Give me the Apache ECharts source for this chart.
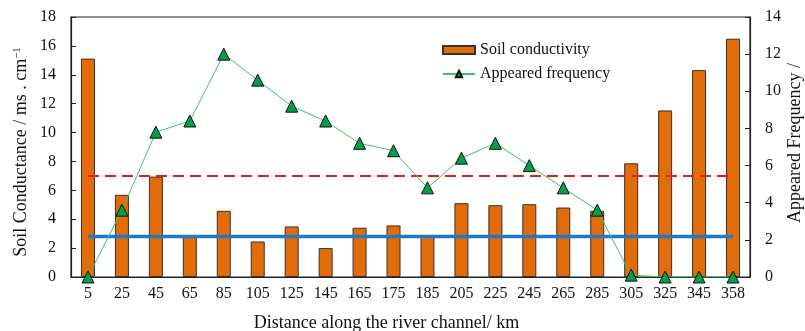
<!DOCTYPE html>
<html>
<head>
<meta charset="utf-8">
<script src="https://cdn.jsdelivr.net/npm/echarts@6/dist/echarts.min.js"></script>
<style>html,body{margin:0;padding:0;background:#fff}#c{width:805px;height:331px}</style>
</head>
<body>
<div id="c"></div>
<script>
var categories = ['5','25','45','65','85','105','125','145','165','175','185','205','225','245','265','285','305','325','345','358'];
var conductivity = [15.12,5.69,6.95,2.76,4.58,2.46,3.5,2.0,3.41,3.57,2.88,5.11,4.97,5.04,4.81,4.58,7.87,11.53,14.32,16.5];
var frequency = [0,3.6,7.8,8.4,12,10.6,9.2,8.4,7.2,6.8,4.8,6.4,7.2,6,4.8,3.6,0.1,0,0,0];
var redLevel = 7.0;
var blueLevel = 2.8;
var leftTicks = {min:0, max:18, interval:2};
var rightTicks = {min:0, max:14, interval:2};

var FONT = '"Liberation Serif","Times New Roman",serif';
var AX = '#222';
var chart = echarts.init(document.getElementById('c'));
chart.setOption({
  animation: false,
  grid: {left:71, right:55, top:17, bottom:54, containLabel:false, outerBoundsMode:'none',
    show:true, borderColor:AX, borderWidth:1.2, backgroundColor:'transparent'},
  legend: {
    data: [{name:'Soil conductivity', icon:'rect'}, {name:'Appeared frequency'}],
    orient: 'vertical', left: 442, top: 42, padding: 0, itemWidth: 32, itemHeight: 8, itemGap: 8,
    textStyle: {fontFamily: FONT, fontSize: 16, color: '#111'}
  },
  xAxis: {
    type: 'category', data: categories,
    axisLine: {lineStyle:{color:AX, width:1.2}},
    axisTick: {inside:true, length:5, lineStyle:{color:AX}},
    axisLabel: {interval:0, margin:9, fontFamily:FONT, fontSize:16, color:'#111'},
    name: 'Distance along the river channel/ km', nameLocation:'middle', nameGap:37,
    nameTextStyle: {fontFamily:FONT, fontSize:18, color:'#111', padding:[0,48,0,0]}
  },
  yAxis: [{
    type:'value', min:leftTicks.min, max:leftTicks.max, interval:leftTicks.interval,
    splitLine:{show:false},
    axisLine:{show:true, lineStyle:{color:AX, width:1.2}},
    axisTick:{show:true, inside:true, length:5, lineStyle:{color:AX}},
    axisLabel:{margin:15, fontFamily:FONT, fontSize:16, color:'#111'},
    name:'{a|Soil Conductance / ms . cm}{s|−1}', nameLocation:'middle', nameGap:40, nameRotate:90,
    nameMoveOverlap:false,
    nameTextStyle:{fontFamily:FONT, fontSize:18, color:'#111', padding:[0,10,0,0],
      rich:{a:{fontFamily:FONT, fontSize:18, color:'#111'}, s:{fontFamily:FONT, fontSize:11, color:'#111', verticalAlign:'top', padding:[0,0,8,0]}}}
  },{
    type:'value', position:'right', min:rightTicks.min, max:rightTicks.max, interval:rightTicks.interval,
    splitLine:{show:false},
    axisLine:{show:true, lineStyle:{color:AX, width:1.2}},
    axisTick:{show:true, inside:true, length:5, lineStyle:{color:AX}},
    axisLabel:{margin:15, fontFamily:FONT, fontSize:16, color:'#111'},
    name:'Appeared Frequency /', nameLocation:'middle', nameGap:36, nameRotate:90,
    nameMoveOverlap:false,
    nameTextStyle:{fontFamily:FONT, fontSize:18, color:'#111', padding:[0,0,0,8]}
  }],
  series: [{
    name:'Soil conductivity', type:'bar', data:conductivity, barWidth:14, yAxisIndex:0,
    itemStyle:{color:'#E36C0A', borderColor:'#333', borderWidth:1}, z:2
  },{
    name:'redline', type:'line', yAxisIndex:0, data:categories.map(function(){return redLevel;}),
    showSymbol:false, symbol:'none', lineStyle:{color:'#E0201B', width:2, type:[11,6]}, z:3, silent:true
  },{
    name:'blueline', type:'line', yAxisIndex:0, data:categories.map(function(){return blueLevel;}),
    showSymbol:false, symbol:'none', lineStyle:{color:'#1F78C8', width:3.5}, z:3, silent:true
  },{
    name:'Appeared frequency', type:'line', yAxisIndex:1, data:frequency,
    symbol:'triangle', symbolSize:12,
    lineStyle:{color:'#3CC36A', width:1},
    itemStyle:{color:'#00A04A', borderColor:'#111', borderWidth:1}, z:5
  }]
});
</script>
</body>
</html>
